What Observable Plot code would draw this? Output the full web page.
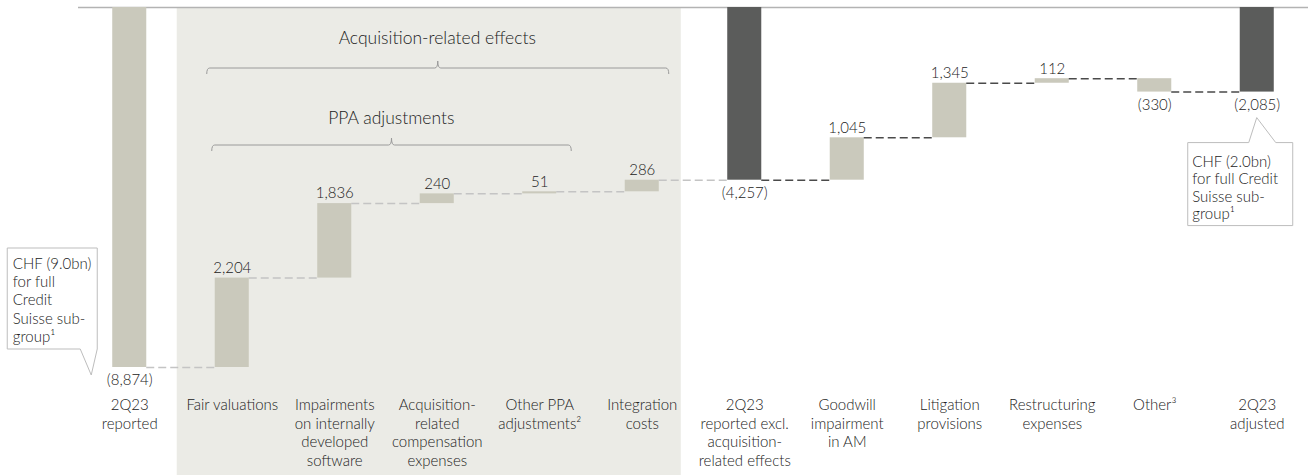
<!DOCTYPE html>
<html><head><meta charset="utf-8">
<script src="https://cdn.jsdelivr.net/npm/d3@7"></script>
<script src="https://cdn.jsdelivr.net/npm/@observablehq/plot@0.6"></script>
<style>body{margin:0;background:#fff;} svg{display:block}</style>
</head><body><div id="chart"></div>
<script>
const categories = ["2Q23 reported","Fair valuations","Impairments on internally developed software","Acquisition-related compensation expenses","Other PPA adjustments","Integration costs","2Q23 reported excl. acquisition-related effects","Goodwill impairment in AM","Litigation provisions","Restructuring expenses","Other","2Q23 adjusted"];
const tickLabels = ["2Q23\nreported","Fair valuations","Impairments\non internally\ndeveloped\nsoftware","Acquisition-\nrelated\ncompensation\nexpenses","Other PPA\nadjustments\u00B2","Integration\ncosts","2Q23\nreported excl.\nacquisition-\nrelated effects","Goodwill\nimpairment\nin AM","Litigation\nprovisions","Restructuring\nexpenses","Other\u00B3","2Q23\nadjusted"];
const values = [-8874, 2204, 1836, 240, 51, 286, -4257, 1045, 1345, 112, -330, -2085];
const kinds = ["start","delta","delta","delta","delta","delta","total","delta","delta","delta","delta","total"];
const groupTitles = ["Acquisition-related effects","PPA adjustments"];
const calloutLeft = "CHF (9.0bn)\nfor full\nCredit\nSuisse sub-\ngroup\u00B9";
const calloutRight = "CHF (2.0bn)\nfor full Credit\nSuisse sub-\ngroup\u00B9";

const LIGHT = "#cac9bc", DARK = "#5b5c5b", SHADE = "#ebebe6", TEXT = "#222222";
const BW = 34;

let run = 0;
const rows = categories.map((c, i) => {
  let y1, y2;
  if (kinds[i] === "delta") { y1 = run; y2 = run + values[i]; }
  else { y1 = 0; y2 = values[i]; }
  run = y2;
  return {cat: c, tick: tickLabels[i], value: values[i], kind: kinds[i], y1, y2,
          top: Math.max(y1, y2), bottom: Math.min(y1, y2), level: run,
          label: values[i] < 0 ? "(" + d3.format(",")(-values[i]) + ")" : d3.format(",")(values[i])};
});
const connectors = rows.slice(0, -1).map((r, i) => ({x1: r.cat, x2: rows[i + 1].cat, y: r.level, dark: i >= 6}));

function bwOf(xs) {
  if (typeof xs.bandwidth === "function") return xs.bandwidth();
  if (typeof xs.bandwidth === "number") return xs.bandwidth;
  return BW;
}

const shadeMark = (index, scales, values, dims) => {
  const xs = scales.x, bw = bwOf(xs);
  const x0 = xs(categories[1]) - 38, x1 = xs(categories[5]) + bw + 22;
  const g = d3.create("svg:g");
  g.append("rect").attr("x", x0).attr("y", dims.marginTop).attr("width", x1 - x0)
    .attr("height", dims.height - dims.marginTop).attr("fill", SHADE);
  return g.node();
};

const decorMark = (index, scales, values, dims) => {
  const xs = scales.x, ys = scales.y, bw = bwOf(xs);
  const g = d3.create("svg:g");
  const bracket = (xa, xb, y) => {
    const xc = (xa + xb) / 2, r = 3;
    return `M${xa},${y + 6} Q${xa},${y} ${xa + r},${y} L${xc - r},${y} Q${xc},${y} ${xc},${y - 7} Q${xc},${y} ${xc + r},${y} L${xb - r},${y} Q${xb},${y} ${xb},${y + 6}`;
  };
  const t = dims.marginTop;
  g.append("path").attr("d", bracket(xs(categories[1]) - 8, xs(categories[5]) + bw + 10, t + 61))
    .attr("fill", "none").attr("stroke", "#9a9a9a").attr("stroke-width", 1);
  g.append("path").attr("d", bracket(xs(categories[1]) - 3, xs(categories[4]) + bw + 15, t + 138))
    .attr("fill", "none").attr("stroke", "#9a9a9a").attr("stroke-width", 1);
  const a = xs(categories[0]), y0 = ys(rows[0].bottom);
  const left = [[a - 105, y0 - 119], [a - 15, y0 - 119], [a - 15, y0 - 18], [a - 21, y0 + 8], [a - 32, y0 - 18], [a - 105, y0 - 18]];
  g.append("polygon").attr("points", left.map(p => p.join(",")).join(" "))
    .attr("fill", "white").attr("stroke", "#bdbdbd").attr("stroke-width", 1);
  const b = xs(categories[11]), yb = ys(rows[11].bottom);
  const right = [[b - 52, yb + 51], [b + 9, yb + 51], [b + 17, yb + 26], [b + 36, yb + 51], [b + 53, yb + 51], [b + 53, yb + 134], [b - 52, yb + 134]];
  g.append("polygon").attr("points", right.map(p => p.join(",")).join(" "))
    .attr("fill", "white").attr("stroke", "#bdbdbd").attr("stroke-width", 1);
  return g.node();
};

const common = {fill: TEXT, fontWeight: 300};
const plot = Plot.plot({
  width: 1308, height: 475,
  marginLeft: 78, marginRight: 0, marginTop: 7, marginBottom: 108,
  x: {domain: categories, paddingInner: 0.668, paddingOuter: 0.334, round: false, axis: null},
  y: {domain: [d3.min(rows, r => r.bottom), 0], axis: null},
  style: {fontFamily: "Lato, 'Open Sans', sans-serif", fontSize: "15px", background: "white", overflow: "visible"},
  marks: [
    shadeMark,
    Plot.ruleY([0], {stroke: "#b3b3b3", strokeWidth: 1.5}),
    Plot.barY(rows.filter(r => r.kind !== "total"), {x: "cat", y1: "y1", y2: "y2", fill: LIGHT}),
    Plot.barY(rows.filter(r => r.kind === "total"), {x: "cat", y1: "y1", y2: "y2", fill: DARK}),
    Plot.ruleY(connectors.filter(c => !c.dark), {x1: "x1", x2: "x2", y: "y", insetLeft: BW, insetRight: BW, stroke: "#c4c4c4", strokeWidth: 1.5, strokeDasharray: "8,4"}),
    Plot.ruleY(connectors.filter(c => c.dark), {x1: "x1", x2: "x2", y: "y", insetLeft: BW, insetRight: BW, stroke: "#4a4a4a", strokeWidth: 1.5, strokeDasharray: "8,4"}),
    decorMark,
    Plot.text(rows.filter(r => r.value > 0 && r.kind === "delta"), {x: "cat", y: "top", text: "label", dy: -10, fontSize: 15, ...common}),
    Plot.text(rows.filter(r => r.value < 0), {x: "cat", y: "bottom", text: "label", dy: 13, fontSize: 15, ...common}),
    Plot.text(rows, {x: "cat", frameAnchor: "bottom", text: "tick", dy: 29, lineAnchor: "top", lineHeight: 1.25, fontSize: 15, ...common}),
    Plot.text([groupTitles[0]], {x: () => categories[3], frameAnchor: "top", text: d => d, dy: 24, fontSize: 17.5, ...common}),
    Plot.text([groupTitles[1]], {x: () => categories[3], frameAnchor: "top", text: d => d, dx: -46, dy: 104, fontSize: 17.5, ...common}),
    Plot.text([calloutLeft], {x: () => categories[0], y: () => rows[0].bottom, text: d => d, dx: -117, dy: -112, textAnchor: "start", lineAnchor: "top", lineHeight: 1.23, fontSize: 15, ...common}),
    Plot.text([calloutRight], {x: () => categories[11], y: () => rows[11].bottom, text: d => d, dx: -65, dy: 62, textAnchor: "start", lineAnchor: "top", lineHeight: 1.17, fontSize: 15, ...common})
  ]
});
document.getElementById("chart").append(plot);
</script>
</body></html>
